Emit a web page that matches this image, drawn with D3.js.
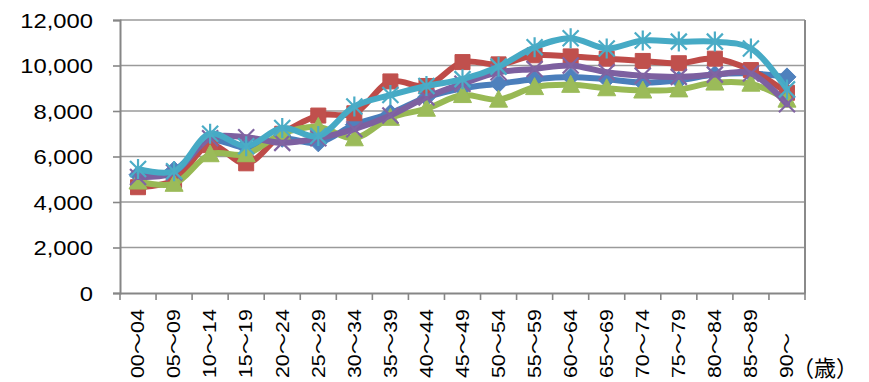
<!DOCTYPE html>
<html>
<head>
<meta charset="utf-8">
<script src="https://cdn.jsdelivr.net/npm/d3@7"></script>
<style>
  html, body { margin: 0; padding: 0; background: #ffffff; }
  svg { display: block; }
</style>
</head>
<body>
<svg id="chart" width="869" height="382"></svg>
<script>
// ---- data ----
const categories = ["00～04","05～09","10～14","15～19","20～24","25～29","30～34","35～39","40～44","45～49","50～54","55～59","60～64","65～69","70～74","75～79","80～84","85～89","90～"];
const yTicks = [0, 2000, 4000, 6000, 8000, 10000, 12000];
const seriesBlue   = [5200, 5400, 6700, 6400, 6800, 6600, 7400, 7900, 8600, 9000, 9200, 9400, 9500, 9400, 9250, 9350, 9600, 9650, 9500];
const seriesRed    = [4650, 4950, 6500, 5700, 7000, 7800, 7900, 9300, 9100, 10150, 10050, 10450, 10400, 10300, 10200, 10100, 10300, 9800, 8800];
const seriesGreen  = [4900, 4800, 6100, 6100, 7000, 7300, 6800, 7700, 8100, 8700, 8500, 9050, 9150, 9000, 8900, 8950, 9250, 9200, 8500];
const seriesPurple = [5100, 5300, 6800, 6850, 6600, 6800, 7200, 7800, 8600, 9200, 9700, 9850, 10000, 9700, 9550, 9500, 9600, 9650, 8300];
const seriesCyan   = [5450, 5350, 7000, 6450, 7250, 6900, 8200, 8700, 9100, 9400, 9950, 10800, 11200, 10750, 11100, 11050, 11050, 10750, 8950];
const unitLabel = "（歳）";

const series = [
  { values: seriesBlue,   line: "#4A7EBB", fill: "#4F81BD", marker: "diamond" },
  { values: seriesRed,    line: "#BE4B48", fill: "#C0504D", marker: "square" },
  { values: seriesGreen,  line: "#98B954", fill: "#9BBB59", marker: "triangle" },
  { values: seriesPurple, line: "#7D60A0", fill: "#8064A2", marker: "x" },
  { values: seriesCyan,   line: "#46AAC5", fill: "#4BACC6", marker: "star" }
];

const svg = d3.select("#chart");
const pLeft = 120, pRight = 805, pTop = 20, pBottom = 293;

const x = d3.scaleBand().domain(categories).range([pLeft, pRight]).paddingInner(0).paddingOuter(0);
const y = d3.scaleLinear().domain([0, 12000]).range([pBottom, pTop]);
const cx = c => x(c) + x.bandwidth() / 2;

// gridlines
svg.append("g").selectAll("line").data(yTicks.filter(t => t > 0)).join("line")
  .attr("x1", pLeft).attr("x2", pRight)
  .attr("y1", d => y(d)).attr("y2", d => y(d))
  .attr("stroke", "#9a9a9a").attr("stroke-width", 1.6);

// right border
svg.append("line").attr("x1", pRight).attr("x2", pRight).attr("y1", pTop).attr("y2", pBottom)
  .attr("stroke", "#8a8a8a").attr("stroke-width", 2);

// y axis
const yAxis = svg.append("g").attr("transform", `translate(${pLeft},0)`)
  .call(d3.axisLeft(y).tickValues(yTicks).tickSize(7).tickPadding(0).tickFormat(d3.format(",")));
yAxis.select(".domain").attr("stroke", "#868686").attr("stroke-width", 2);
yAxis.selectAll(".tick line").attr("stroke", "#868686").attr("stroke-width", 1.6);
yAxis.selectAll(".tick text").remove();
yAxis.selectAll(".tick").append("text")
  .attr("transform", "translate(-27,0) scale(1.22,1)")
  .attr("text-anchor", "end").attr("dy", "0.36em")
  .attr("fill", "#000").attr("font-family", "'Liberation Sans', Arial, sans-serif")
  .attr("font-size", 19.5).text(d => d3.format(",")(d));

// x axis
const xAxis = svg.append("g").attr("transform", `translate(0,${pBottom})`)
  .call(d3.axisBottom(x).tickSize(0).tickFormat(""));
xAxis.select(".domain").attr("stroke", "#868686").attr("stroke-width", 2);
xAxis.selectAll(".tick").remove();
const bounds = categories.map(c => x(c)).concat([pRight]);
xAxis.append("g").selectAll("line").data(bounds).join("line")
  .attr("x1", d => d).attr("x2", d => d).attr("y1", 0).attr("y2", 7)
  .attr("stroke", "#868686").attr("stroke-width", 1.6);

svg.append("g").selectAll("text").data(categories).join("text")
  .attr("transform", d => `translate(${cx(d)},378) rotate(-90) scale(1.22,1)`)
  .attr("text-anchor", "start").attr("dy", "0.36em")
  .attr("fill", "#000").attr("font-family", "'Liberation Sans', Arial, 'Noto Sans CJK JP', sans-serif")
  .attr("font-size", 17.5).text(d => d);

svg.append("text").attr("x", 792).attr("y", 366).attr("dominant-baseline", "central")
  .attr("font-family", "'Noto Sans CJK JP', sans-serif").attr("font-size", 22)
  .attr("fill", "#000").text(unitLabel);

// lines
const line = d3.line().x((d, i) => cx(categories[i])).y(d => y(d)).curve(d3.curveCatmullRom.alpha(0.5));

function markerPath(type) {
  switch (type) {
    case "diamond": return "M0,-9L9,0L0,9L-9,0Z";
    case "square": return "M-7.5,-7.5H7.5V7.5H-7.5Z";
    case "triangle": return "M0,-9.5L9,7.5H-9Z";
    case "x": return "M-8,-8L8,8M8,-8L-8,8";
    case "star": return "M-8,-8L8,8M8,-8L-8,8M0,-10V10";
  }
}

series.forEach(s => {
  const g = svg.append("g");
  g.append("path").datum(s.values).attr("d", line)
    .attr("fill", "none").attr("stroke", s.line).attr("stroke-width", 6)
    .attr("stroke-linejoin", "round").attr("stroke-linecap", "round");
  const open = s.marker === "x" || s.marker === "star";
  g.selectAll("path.m").data(s.values).join("path").attr("class", "m")
    .attr("transform", (d, i) => `translate(${cx(categories[i])},${y(d)})`)
    .attr("d", markerPath(s.marker))
    .attr("fill", open ? "none" : s.fill)
    .attr("stroke", s.fill).attr("stroke-width", open ? 2.2 : 1);
});
</script>
</body>
</html>
